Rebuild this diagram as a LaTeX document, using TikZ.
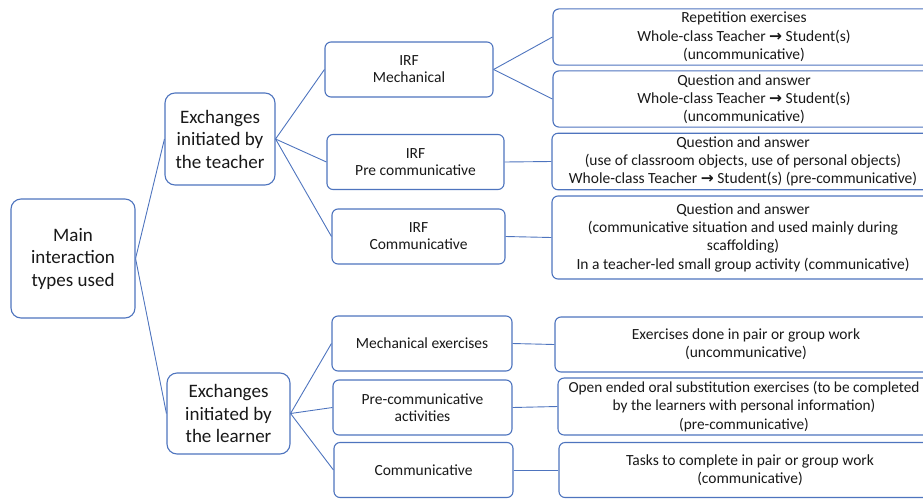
\documentclass[tikz,border=0pt]{standalone}
\usepackage{fontspec}
\setmainfont{Carlito}
\newfontfamily\arrowfont{DejaVu Sans}
\newcommand{\toarrow}{{\arrowfont\bfseries →}}
\definecolor{boxblue}{RGB}{78,116,190}
\begin{document}
\begin{tikzpicture}[
  x=1pt, y=-1pt,
  bigbox/.style={rectangle, rounded corners=10pt, draw=boxblue, line width=1.1pt, fill=white, align=center, text=black!90, font=\fontsize{19}{22.5}\selectfont},
  midbox/.style={rectangle, rounded corners=6pt, draw=boxblue, line width=1.1pt, fill=white, align=center, text=black!90, minimum height=55pt, font=\fontsize{15.5}{17}\selectfont},
  rightbox/.style={rectangle, rounded corners=6pt, draw=boxblue, line width=1.1pt, fill=white, align=center, text=black!90, minimum width=382pt, minimum height=55pt, inner xsep=1pt, font=\fontsize{15.5}{18.3}\selectfont},
  link/.style={draw=boxblue, line width=0.9pt}
]
  \path[use as bounding box, clip] (0,0) rectangle (923,498);
  \node[bigbox, minimum width=124pt, minimum height=119pt] (main) at (73,258.5) {Main\\interaction\\types used};
  \node[bigbox, minimum width=110pt, minimum height=92pt] (teacher) at (220,139) {Exchanges\\initiated by\\the teacher};
  \node[bigbox, minimum width=123pt, minimum height=81pt] (learner) at (228.5,413.5) {Exchanges\\initiated by\\the learner};

  \node[midbox, minimum width=168pt] (irfmech) at (409,69.5) {IRF\\Mechanical};
  \node[midbox, minimum width=177pt] (irfpre) at (415.5,162) {IRF\\Pre communicative};
  \node[midbox, minimum width=173pt] (irfcom) at (418.5,236.5) {IRF\\Communicative};
  \node[midbox, minimum width=180pt] (mechex) at (422,343.5) {Mechanical exercises};
  \node[midbox, minimum width=179pt] (precom) at (422.5,407.5) {Pre-communicative\\activities};
  \node[midbox, minimum width=179pt] (commun) at (423.5,470) {Communicative};

  \node[rightbox] (rep) at (744,37) {Repetition exercises\\Whole-class Teacher \toarrow{} Student(s)\\(uncommunicative)};
  \node[rightbox] (qaunc) at (744,99) {Question and answer\\Whole-class Teacher \toarrow{} Student(s)\\(uncommunicative)};
  \node[rightbox] (qapre) at (743,161.5) {Question and answer\\(use of classroom objects, use of personal objects)\\Whole-class Teacher \toarrow{} Student(s) (pre-communicative)};
  \node[rightbox, minimum height=83pt] (qacom) at (743,237.5) {Question and answer\\(communicative situation and used mainly during\\scaffolding)\\In a teacher-led small group activity (communicative)};
  \node[rightbox] (pairex) at (746,344.5) {Exercises done in pair or group work\\(uncommunicative)};
  \node[rightbox, minimum width=372pt, font=\fontsize{15.3}{18.3}\selectfont] (subst) at (744,406.5) {Open ended oral substitution exercises (to be completed\\by the learners with personal information)\\(pre-communicative)};
  \node[rightbox] (tasks) at (750,470) {Tasks to complete in pair or group work\\(communicative)};

  \draw[link] (main.east) -- (teacher.west);
  \draw[link] (main.east) -- (learner.west);
  \draw[link] (teacher.east) -- (irfmech.west);
  \draw[link] (teacher.east) -- (irfpre.west);
  \draw[link] (teacher.east) -- (irfcom.west);
  \draw[link] (learner.east) -- (mechex.west);
  \draw[link] (learner.east) -- (precom.west);
  \draw[link] (learner.east) -- (commun.west);
  \draw[link] (irfmech.east) -- (rep.west);
  \draw[link] (irfmech.east) -- (qaunc.west);
  \draw[link] (irfpre.east) -- (qapre.west);
  \draw[link] (irfcom.east) -- (qacom.west);
  \draw[link] (mechex.east) -- (pairex.west);
  \draw[link] (precom.east) -- (subst.west);
  \draw[link] (commun.east) -- (tasks.west);
\end{tikzpicture}
\end{document}
